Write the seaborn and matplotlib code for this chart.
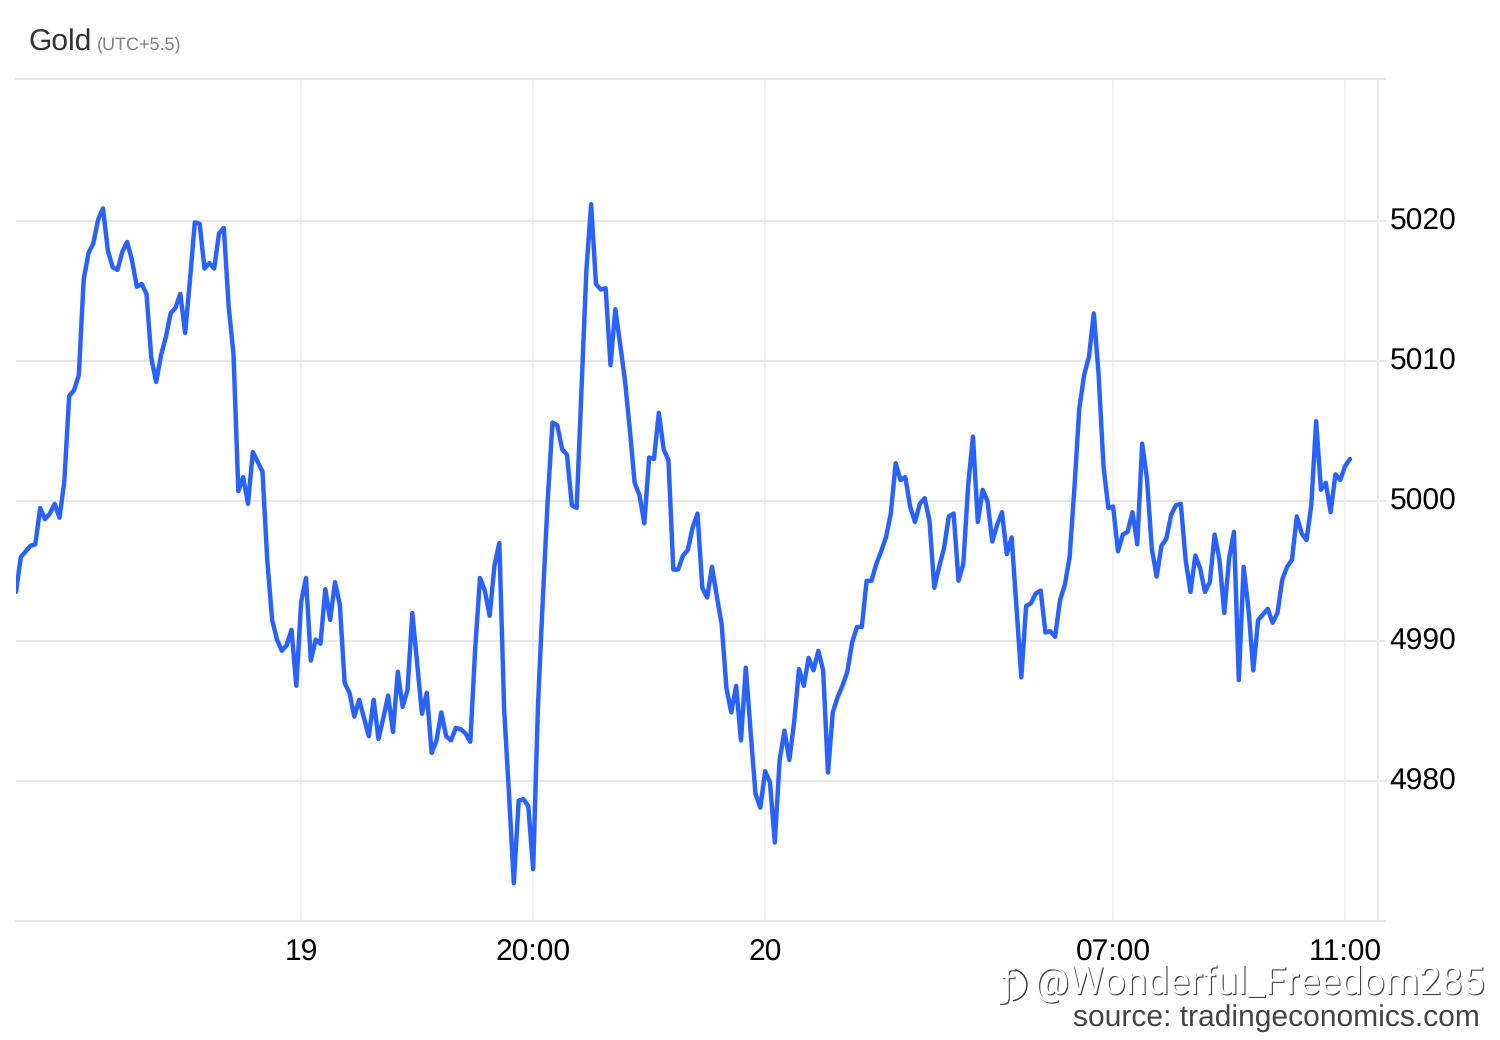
import matplotlib
matplotlib.use('Agg')
import matplotlib.pyplot as plt
import matplotlib.patheffects as pe
from matplotlib.patches import Arc
from matplotlib.transforms import ScaledTranslation
import seaborn as sns
import pandas as pd

# gold price, 277 samples
prices = [
    4993.5, 4996.0, 4996.4, 4996.8, 4996.9, 4999.5, 4998.7, 4999.1, 4999.8, 4998.8,
    5001.4, 5007.5, 5007.9, 5009.0, 5015.8, 5017.7, 5018.4, 5020.1, 5020.9, 5017.9,
    5016.7, 5016.5, 5017.8, 5018.5, 5017.2, 5015.3, 5015.5, 5014.8, 5010.2, 5008.5,
    5010.4, 5011.7, 5013.4, 5013.8, 5014.8, 5012.0, 5015.8, 5019.9, 5019.8, 5016.6,
    5017.0, 5016.6, 5019.1, 5019.5, 5013.9, 5010.5, 5000.7, 5001.7, 4999.8, 5003.5,
    5002.8, 5002.1, 4995.7, 4991.5, 4990.1, 4989.3, 4989.7, 4990.8, 4986.8, 4992.8,
    4994.5, 4988.6, 4990.1, 4989.8, 4993.7, 4991.5, 4994.2, 4992.6, 4987.0, 4986.3,
    4984.6, 4985.8, 4984.5, 4983.2, 4985.8, 4983.0, 4984.5, 4986.1, 4983.5, 4987.8,
    4985.3, 4986.5, 4992.0, 4988.4, 4984.8, 4986.3, 4982.0, 4982.9, 4984.9, 4983.2,
    4982.9, 4983.8, 4983.7, 4983.4, 4982.8, 4989.4, 4994.5, 4993.6, 4991.8, 4995.4,
    4997.0, 4985.1, 4979.1, 4972.7, 4978.6, 4978.7, 4978.2, 4973.7, 4985.4, 4993.0,
    5000.0, 5005.6, 5005.4, 5003.7, 5003.3, 4999.7, 4999.5, 5007.9, 5016.4, 5021.2,
    5015.5, 5015.1, 5015.2, 5009.7, 5013.7, 5011.2, 5008.6, 5005.1, 5001.3, 5000.4,
    4998.4, 5003.1, 5003.0, 5006.3, 5003.7, 5002.9, 4995.1, 4995.1, 4996.1, 4996.5,
    4998.1, 4999.1, 4993.8, 4993.1, 4995.3, 4993.2, 4991.2, 4986.6, 4984.9, 4986.8,
    4982.9, 4988.1, 4983.5, 4979.1, 4978.1, 4980.7, 4979.9, 4975.6, 4981.5, 4983.6,
    4981.5, 4984.2, 4988.0, 4986.8, 4988.8, 4987.9, 4989.3, 4987.9, 4980.6, 4984.9,
    4986.0, 4986.8, 4987.8, 4989.9, 4991.0, 4991.0, 4994.3, 4994.3, 4995.5, 4996.4,
    4997.4, 4999.1, 5002.7, 5001.5, 5001.7, 4999.6, 4998.5, 4999.8, 5000.2, 4998.6,
    4993.8, 4995.3, 4996.6, 4998.9, 4999.1, 4994.3, 4995.5, 5001.1, 5004.6, 4998.5,
    5000.8, 5000.0, 4997.1, 4998.3, 4999.2, 4996.2, 4997.4, 4992.4, 4987.4, 4992.5,
    4992.7, 4993.4, 4993.6, 4990.6, 4990.7, 4990.3, 4992.9, 4994.0, 4996.0, 5001.0,
    5006.6, 5009.0, 5010.3, 5013.4, 5009.0, 5002.5, 4999.5, 4999.6, 4996.4, 4997.6,
    4997.8, 4999.2, 4996.9, 5004.1, 5001.6, 4996.6, 4994.6, 4996.8, 4997.3, 4999.0,
    4999.7, 4999.8, 4995.8, 4993.5, 4996.1, 4995.2, 4993.5, 4994.2, 4997.6, 4995.8,
    4992.0, 4995.9, 4997.8, 4987.2, 4995.3, 4992.3, 4987.9, 4991.5, 4991.9, 4992.3,
    4991.3, 4992.0, 4994.4, 4995.3, 4995.8, 4998.9, 4997.7, 4997.2, 4999.7, 5005.7,
    5000.8, 5001.3, 4999.2, 5001.9, 5001.5, 5002.5, 5003.0,
]
x_tick_pos = [59, 107, 155, 227, 275]
x_tick_labels = ['19', '20:00', '20', '07:00', '11:00']
y_ticks = [4980, 4990, 5000, 5010, 5020]

W, H = 1500, 1040
LEFT, RIGHT, TOP, BOTTOM = 16, 1378, 79, 921

sns.set_theme(style='white')
plt.rcParams['font.family'] = ['Liberation Sans', 'DejaVu Sans']
plt.rcParams['text.hinting'] = 'no_hinting'
plt.rcParams['text.hinting_factor'] = 1

df = pd.DataFrame({'t': range(len(prices)), 'price': prices})

fig = plt.figure(figsize=(W / 100, H / 100), dpi=100, facecolor='white')
ax = fig.add_axes([LEFT / W, 1 - BOTTOM / H, (RIGHT - LEFT) / W, (BOTTOM - TOP) / H])

ax.grid(True, axis='x', color='#eff2f6', linewidth=1.5)
ax.grid(True, axis='y', color='#e6e6e6', linewidth=1.5)
ax.set_axisbelow(True)

sns.lineplot(data=df, x='t', y='price', color='#2962ff', linewidth=3.2, ax=ax, errorbar=None)

ax.set_xlim(0, 281.8)
ax.set_ylim(4970, 5030.14)
ax.set_xlabel('')
ax.set_ylabel('')

ax.set_xticks(x_tick_pos, x_tick_labels)
ax.set_yticks(y_ticks, [str(v) for v in y_ticks])
ax.set_yticks([4970, 5030.14], minor=True)
ax.yaxis.tick_right()
ax.tick_params(axis='x', length=0, pad=12.8, labelsize=21.5, labelcolor='black')
ax.tick_params(axis='y', which='major', length=5.5, width=1.5, color='#e6e6e6', pad=3,
               labelsize=21.5, labelcolor='black')
ax.tick_params(axis='y', which='minor', length=5.5, width=1.5, color='#e6e6e6', labelright=False)

# y labels sit 2px above their gridlines
for label in ax.get_yticklabels():
    label.set_transform(label.get_transform() + ScaledTranslation(0, 2 / 100, fig.dpi_scale_trans))

ax.spines['left'].set_visible(False)
for side in ['top', 'bottom']:
    ax.spines[side].set_color('#e6e6e6')
    ax.spines[side].set_linewidth(1.5)
ax.spines['right'].set_color('#eceef1')
ax.spines['right'].set_linewidth(1.5)

# title
fig.text(28 / W, 1 - 50.5 / H, 'Gold', fontsize=21.5, color='#333333')
fig.text(97 / W, 1 - 49 / H, '(UTC+5.5)', fontsize=13.1, color='#808080')

# source
fig.text(1480 / W, 1 - 1026 / H, 'source: tradingeconomics.com', fontsize=21.5,
         color='#444444', ha='right')

# embossed watermark: white glyphs over a dark offset copy
emboss = [pe.SimplePatchShadow(offset=(0.8, -0.8), shadow_rgbFace='#222222', alpha=0.85),
          pe.Normal()]
fig.text(1486 / W, 1 - 994 / H, '@Wonderful_Freedom285', fontsize=28, color='white',
         ha='right', family=['Roboto', 'DejaVu Sans'], path_effects=emboss)
fig.text(1008 / W, 1 - 996 / H, 'ƒ', fontsize=27, color='white', ha='center',
         family=['DejaVu Sans'], path_effects=emboss)
bubble = Arc((1010, H - 985), 34, 32, theta1=-80, theta2=75, color='#333333', linewidth=1.0,
             transform=None)
fig.add_artist(bubble)

fig.savefig('out.png', dpi=100)
